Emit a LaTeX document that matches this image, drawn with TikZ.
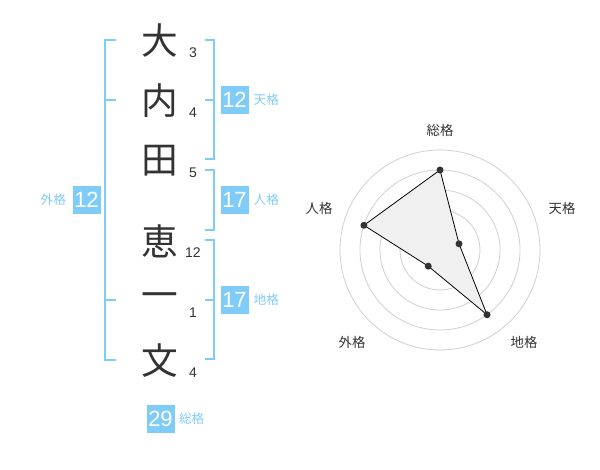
\documentclass[tikz,border=0pt]{standalone}
\usepackage{fontspec}
\setmainfont{Liberation Sans}
\newfontfamily\cjk{Noto Sans CJK JP}
\usepackage{tikz}
\usetikzlibrary{positioning}
\definecolor{kaku}{RGB}{128,204,248}
\definecolor{ink}{RGB}{51,51,51}
\definecolor{ring}{RGB}{208,208,208}
\tikzset{
  kanji/.style={text=ink,inner sep=0pt,font=\cjk\fontsize{27.5}{27.5}\selectfont},
  strokes/.style={text=ink,inner sep=0pt,font=\fontsize{10.5}{10.5}\selectfont},
  score/.style={fill=kaku,text=white,minimum size=21pt,inner sep=0pt,font=\fontsize{16.5}{16.5}\selectfont},
  kakuname/.style={text=kaku,inner sep=0pt,font=\cjk\fontsize{9.5}{9.5}\selectfont},
  bracket/.style={draw=kaku,line width=1.5pt},
  axisname/.style={text=ink,inner sep=0pt,font=\cjk\fontsize{10}{10}\selectfont},
  dot/.style={fill=ink,draw=none},
}

\begin{document}
\begin{tikzpicture}[x=0.75pt,y=-0.75pt]
\useasboundingbox (0,0) rectangle (600,470);
% name and stroke counts
\foreach \ch/\y/\n [count=\i] in {大/41/3, 内/101/4, 田/161/5, 恵/241/12, 一/301/1, 文/361/4}
{
  \node[kanji] (c\i) at (160,\y) {\ch};
  \node[strokes] (n\i) at (193,\y+12) {\n};
}
% brackets
\draw[bracket] (116,40) -| (105,360) -- (116,360);
\draw[bracket] (105,100) -- (116,100) (105,300) -- (116,300);
\draw[bracket] (205,40) -| (214,159) -- (205,159) (214,100) -- (205,100);
\draw[bracket] (205,170) -| (214,230) -- (205,230);
\draw[bracket] (205,240) -| (214,359) -- (205,359) (214,300) -- (205,300);
% scores
\node[score] (ten) at (234.5,100) {12};
\node[kakuname,right=3.5pt of ten] (tenname) {天格};
\node[score] (jin) at (234.5,200) {17};
\node[kakuname,right=3.5pt of jin] (jinname) {人格};
\node[score] (chi) at (234.5,300) {17};
\node[kakuname,right=3.5pt of chi] (chiname) {地格};
\node[score] (gai) at (86.5,200) {12};
\node[kakuname,left=4.5pt of gai] (gainame) {外格};
\node[score] (sou) at (160.5,419) {29};
\node[kakuname,right=3pt of sou] (souname) {総格};
% radar
\begin{scope}[shift={(440,250)},yscale=-1]
  \foreach \r in {20,40,...,100}
    \draw[ring,line width=0.6pt] (0,0) circle[radius=\r];
  \fill[ring] (0,0) circle[radius=3.5];
  \foreach \a/\r/\nm in {90/4/sou, 18/1/ten, -54/4/chi, 234/1/gai, 162/4/jin}
    \coordinate (p\nm) at (\a:\r*20);
  \draw[fill=black!6,line width=0.6pt] (psou) -- (pten) -- (pchi) -- (pgai) -- (pjin) -- cycle;
  \foreach \nm in {sou,ten,chi,gai,jin}
    \fill[dot] (p\nm) circle[radius=3.5];
  \foreach \nm/\txt/\pos in {sou/総格/{(0,120)}, ten/天格/{(122,42)}, chi/地格/{(84,-92)}, gai/外格/{(-88,-92)}, jin/人格/{(-121,42)}}
    \node[axisname] (l\nm) at \pos {\txt};
\end{scope}
\end{tikzpicture}
\end{document}
